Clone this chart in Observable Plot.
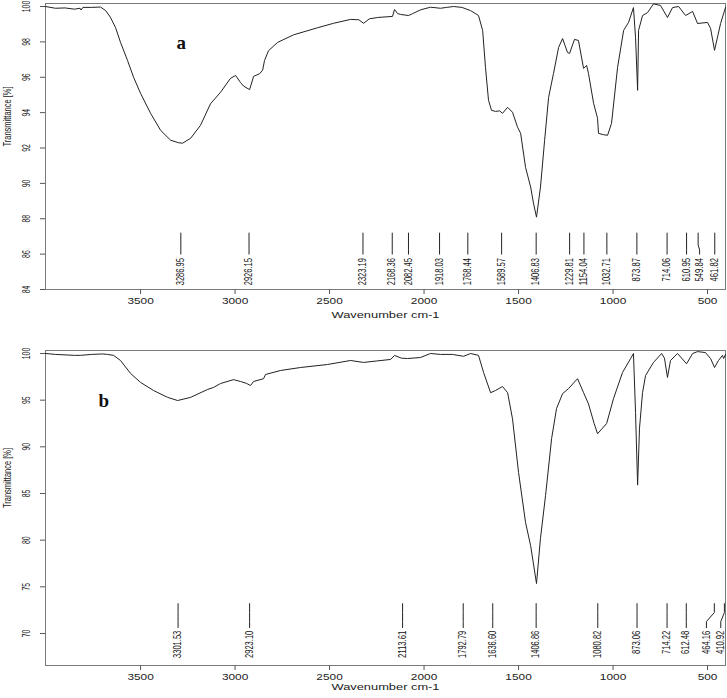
<!DOCTYPE html>
<html><head><meta charset="utf-8">
<script src="https://cdn.jsdelivr.net/npm/d3@7"></script>
<script src="https://cdn.jsdelivr.net/npm/@observablehq/plot@0.6"></script>
<style>
body{margin:0;background:#fff;}
#chart{width:727px;height:698px;overflow:hidden;}
svg{display:block;}
</style></head><body><div id="chart"></div>
<script>
// ---------- data ----------
const wavenumberA = [4003,3950,3900,3850,3820,3815,3805,3760,3712,3685,3660,3632,3606,3569,3537,3500,3447,3394,3341,3300,3278,3235,3183,3130,3077,3024,2997,2971,2955,2923,2902,2870,2854,2844,2823,2775,2690,2563,2479,2389,2345,2320,2290,2246,2167,2156,2140,2124,2082,2060,2019,1966,1913,1880,1844,1800,1754,1712,1690,1675,1659,1643,1622,1600,1585,1558,1532,1505,1489,1463,1436,1421,1405,1384,1362,1341,1315,1288,1267,1241,1230,1204,1183,1156,1140,1130,1103,1082,1077,1050,1029,1008,976,944,918,892,881,870,865,844,817,786,749,712,685,653,616,579,553,500,484,463,431,405];
const transA = [100.0,99.9,99.92,99.85,99.9,99.8,99.95,99.95,99.97,99.77,99.4,98.8,97.97,96.95,96.0,95.09,93.96,93.0,92.44,92.3,92.27,92.55,93.28,94.5,95.15,95.94,96.1,95.7,95.5,95.3,96.05,96.2,96.4,96.95,97.5,97.97,98.4,98.8,99.05,99.27,99.25,99.05,99.3,99.38,99.44,99.83,99.6,99.55,99.49,99.6,99.81,99.96,99.9,99.95,100.0,99.95,99.77,99.49,98.65,96.56,94.7,94.13,94.07,94.1,93.96,94.3,94.02,93.17,92.83,90.91,89.79,88.88,88.09,89.79,92.44,94.86,96.22,97.69,98.19,97.4,97.35,98.14,98.08,96.5,96.67,96.22,94.53,93.68,92.83,92.75,92.72,93.4,96.56,98.65,99.1,99.94,98.25,95.26,98.65,99.49,99.66,100.15,100.06,99.38,99.94,100.0,99.49,99.72,99.04,99.1,98.76,97.52,99.04,99.94];

const wavenumberB = [4003,3950,3900,3850,3817,3760,3700,3675,3643,3606,3553,3500,3431,3357,3304,3235,3146,3114,3077,3008,2971,2940,2918,2902,2849,2839,2759,2653,2511,2389,2320,2250,2177,2156,2120,2087,2019,1966,1913,1850,1791,1754,1712,1685,1648,1622,1585,1558,1532,1500,1463,1436,1405,1384,1357,1325,1299,1267,1235,1188,1156,1130,1100,1082,1034,997,950,907,892,881,870,860,844,828,786,743,728,712,696,659,611,579,553,511,484,463,442,421,415,405];
const transB = [100.0,99.9,99.85,99.8,99.8,99.9,99.95,99.9,99.8,99.25,97.86,96.9,96.03,95.3,94.96,95.3,96.14,96.36,96.78,97.2,97.0,96.8,96.57,97.0,97.3,97.75,98.18,98.5,98.82,99.25,99.04,99.2,99.36,99.79,99.5,99.46,99.57,100.0,99.9,99.9,99.7,100.0,99.8,97.96,95.8,96.03,96.46,95.8,93.0,87.25,81.9,79.4,75.35,80.2,84.8,90.9,94.1,95.7,96.25,97.3,95.8,94.6,92.5,91.4,92.5,95.2,97.96,99.46,100.0,93.7,85.9,92.0,95.8,97.64,99.04,100.0,99.5,97.43,99.25,100.0,98.9,100.0,100.2,100.1,99.46,98.5,99.25,99.8,99.46,99.9];

const peaksA = [3286.95,2926.15,2323.19,2168.36,2082.45,1918.03,1768.44,1589.57,1406.83,1229.81,1154.04,1032.71,873.87,714.06,610.95,549.84,461.82];
const labelPosA = [3286.95,2926.15,2323.19,2168.36,2082.45,1918.03,1768.44,1589.57,1406.83,1229.81,1154.04,1032.71,873.87,714.06,610.95,542,461.82];
const peaksB = [3301.53,2923.10,2113.61,1792.79,1636.60,1406.86,1080.82,873.06,714.22,612.48,464.16,410.92];
const labelPosB = [3301.53,2923.10,2113.61,1792.79,1636.60,1406.86,1080.82,873.06,714.22,612.48,506,430];

const xTicks = [3500,3000,2500,2000,1500,1000,500];
const yTicksA = [84,86,88,90,92,94,96,98,100];
const yTicksB = [70,75,80,85,90,95,100];
const xTitle = "Wavenumber cm-1";
const yTitle = "Transmittance [%]";

// ---------- drawing ----------
const SANS = "'Liberation Sans',Arial,sans-serif";

// squeeze/stretch glyphs to the reference's proportions
function reshape(svg) {
  d3.select(svg).selectAll("text").each(function() {
    const s = this.textContent;
    const g = this.closest("g");
    const aria = g ? (g.getAttribute("aria-label") || "") : "";
    let len = null;
    if (s === xTitle) len = 108;
    else if (s === yTitle) len = 60;
    else if (/^\d+\.\d\d$/.test(s)) len = s.length * 3.9;
    else if (aria.startsWith("x-axis")) len = s.length * 6.6;
    else if (aria.startsWith("y-axis")) len = s.length * 3.8;
    if (len != null) {
      this.setAttribute("textLength", len.toFixed(1));
      this.setAttribute("lengthAdjust", "spacingAndGlyphs");
    }
  });
}

function spectrum(cfg) {
  const series = cfg.w.map((w, i) => ({w, t: cfg.t[i]}));
  const peaks = cfg.peaks.map((p, i) => ({p, pos: cfg.pos[i], label: p.toFixed(2)}));
  const connectors = peaks.flatMap((d, i) => [
    {id: i, w: d.p, t: cfg.lineTop},
    {id: i, w: d.p, t: cfg.bendTop},
    {id: i, w: d.pos, t: cfg.bendBot},
    {id: i, w: d.pos, t: cfg.lineBot}
  ]);
  const svg = Plot.plot({
    width: 727,
    height: cfg.height,
    marginLeft: 45,
    marginRight: 2,
    marginTop: cfg.marginTop,
    marginBottom: cfg.marginBottom,
    style: {fontFamily: SANS, background: "#fff", color: "#222", overflow: "visible"},
    x: {domain: [4003, 405]},
    y: {domain: cfg.yDomain},
    marks: [
      Plot.frame({stroke: "#7a7a7a"}),
      Plot.axisX({ticks: xTicks, tickSize: 5, tickPadding: 3, fontSize: 9.5, tickFormat: d3.format("d"), label: null, stroke: "#555"}),
      Plot.axisY({ticks: cfg.yTicks, tickSize: 5, tickPadding: 11, tickRotate: -90, fontSize: 10, label: null, stroke: "#555"}),
      Plot.text([xTitle], {frameAnchor: "bottom", dy: cfg.xLabelDy, fontSize: 9.5}),
      Plot.text([yTitle], {frameAnchor: "left", dx: -38, rotate: -90, fontSize: 10.5}),
      Plot.line(series, {x: "w", y: "t", stroke: "#222", strokeWidth: 1, curve: "linear"}),
      Plot.line(connectors, {x: "w", y: "t", z: "id", stroke: "#222", strokeWidth: 1}),
      Plot.text(peaks, {x: "pos", y: cfg.labelTop, text: "label", rotate: -90, textAnchor: "end", fontSize: 10, fill: "#111"}),
      Plot.text([cfg.letter], {frameAnchor: "top-left", dx: cfg.letterDx, dy: cfg.letterDy, fontSize: 19, fontWeight: "bold", fontFamily: "'Liberation Serif','Times New Roman',serif", fill: "#111"})
    ]
  });
  reshape(svg);
  return svg;
}

const chart = document.getElementById("chart");
chart.append(spectrum({
  w: wavenumberA, t: transA, peaks: peaksA, pos: labelPosA,
  yDomain: [84, 100.17], yTicks: yTicksA,
  height: 335, marginTop: 3, marginBottom: 46,
  lineTop: 87.19, bendTop: 86.52, bendBot: 86.24, lineBot: 86.0, labelTop: 85.78,
  xLabelDy: 28, letter: "a", letterDx: 131, letterDy: 32
}));
chart.append(spectrum({
  w: wavenumberB, t: transB, peaks: peaksB, pos: labelPosB,
  yDomain: [66.57, 100.32], yTicks: yTicksB,
  height: 363, marginTop: 15, marginBottom: 33,
  lineTop: 73.2, bendTop: 72.24, bendBot: 71.28, lineBot: 70.63, labelTop: 70.3,
  xLabelDy: 24, letter: "b", letterDx: 53, letterDy: 43
}));
</script>
</body></html>
